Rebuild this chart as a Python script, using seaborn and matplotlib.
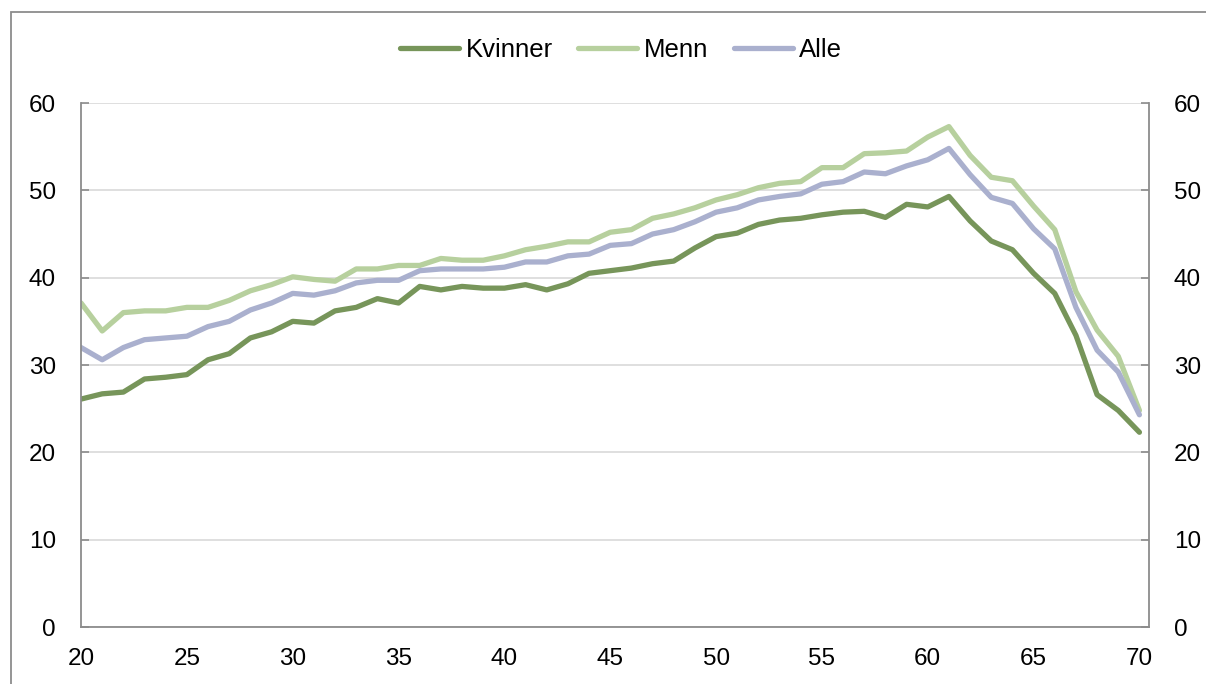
import numpy as np
import pandas as pd
import seaborn as sns
import matplotlib.pyplot as plt
from matplotlib.patches import Rectangle

# Age 20..70
ages = list(range(20, 71))

kvinner = [26.1, 26.7, 26.9, 28.4, 28.6, 28.9, 30.6, 31.3, 33.1, 33.8,
           35.0, 34.8, 36.2, 36.6, 37.6, 37.1, 39.0, 38.6, 39.0, 38.8,
           38.8, 39.2, 38.6, 39.3, 40.5, 40.8, 41.1, 41.6, 41.9, 43.4,
           44.7, 45.1, 46.1, 46.6, 46.8, 47.2, 47.5, 47.6, 46.9, 48.4,
           48.1, 49.3, 46.5, 44.2, 43.2, 40.5, 38.2, 33.4, 26.6, 24.8,
           22.3]
menn = [37.1, 33.9, 36.0, 36.2, 36.2, 36.6, 36.6, 37.4, 38.5, 39.2,
        40.1, 39.8, 39.6, 41.0, 41.0, 41.4, 41.4, 42.2, 42.0, 42.0,
        42.5, 43.2, 43.6, 44.1, 44.1, 45.2, 45.5, 46.8, 47.3, 48.0,
        48.9, 49.5, 50.3, 50.8, 51.0, 52.6, 52.6, 54.2, 54.3, 54.5,
        56.1, 57.3, 54.0, 51.5, 51.1, 48.2, 45.5, 38.4, 34.0, 31.0,
        24.8]
alle = [32.0, 30.6, 32.0, 32.9, 33.1, 33.3, 34.4, 35.0, 36.3, 37.1,
        38.2, 38.0, 38.5, 39.4, 39.7, 39.7, 40.8, 41.0, 41.0, 41.0,
        41.2, 41.8, 41.8, 42.5, 42.7, 43.7, 43.9, 45.0, 45.5, 46.4,
        47.5, 48.0, 48.9, 49.3, 49.6, 50.7, 51.0, 52.1, 51.9, 52.8,
        53.5, 54.8, 51.8, 49.2, 48.5, 45.6, 43.3, 36.6, 31.7, 29.2,
        24.3]

series_names = ["Kvinner", "Menn", "Alle"]
colors = ["#77955A", "#B7D09E", "#AAB0CE"]

df = pd.DataFrame({"Alder": ages, "Kvinner": kvinner, "Menn": menn, "Alle": alle})
long_df = df.melt(id_vars="Alder", var_name="Gruppe", value_name="Verdi")

sns.set_style("white")
plt.rcParams["font.family"] = ["Liberation Sans", "DejaVu Sans"]
plt.rcParams["text.color"] = "black"
plt.rcParams["xtick.labelcolor"] = "black"
plt.rcParams["ytick.labelcolor"] = "black"

fig = plt.figure(figsize=(12.06, 6.84), dpi=100)
ax = fig.add_axes([0.0672, 0.0833, 0.8855, 0.7661])

sns.lineplot(data=long_df, x="Alder", y="Verdi", hue="Gruppe",
             hue_order=series_names, palette=colors, linewidth=3.8,
             ax=ax, legend=True)

ax.set_xlim(20, 70.45)
ax.set_ylim(0, 60)
ax.set_xticks(range(20, 71, 5))
ax.set_yticks(range(0, 61, 10))
ax.set_xlabel("")
ax.set_ylabel("")
ax.grid(axis="y", color="#D9D9D9", linewidth=1.2)
ax.set_axisbelow(True)

for side in ["left", "right", "bottom"]:
    ax.spines[side].set_color("#8C8C8C")
    ax.spines[side].set_linewidth(1.3)
ax.spines["top"].set_visible(False)

ax.tick_params(axis="y", direction="in", length=6, width=1.2, color="#8C8C8C",
               left=True, right=True, labelleft=True, labelright=True,
               labelsize=17.5, labelcolor="black", pad=18)
ax.tick_params(axis="x", direction="in", length=6, width=1.2, color="#8C8C8C",
               labelsize=17.5, labelcolor="black", pad=15)

handles, labels = ax.get_legend_handles_labels()
leg = ax.legend(handles, labels, loc="center", bbox_to_anchor=(0.515, 0.927),
                bbox_transform=fig.transFigure, ncol=3, frameon=False,
                fontsize=18.5, handlelength=2.3, handletextpad=0.25,
                columnspacing=1.0)
for t in leg.get_texts():
    t.set_color("black")

# grey frame around the chart (right and bottom edges fall outside the image)
fig.patches.append(Rectangle((11 / 1206, -0.1), 1.5, 1.1 - 12 / 684,
                             transform=fig.transFigure, fill=False,
                             edgecolor="#8C8C8C", linewidth=1.3))

fig.savefig("out.png", dpi=100)
